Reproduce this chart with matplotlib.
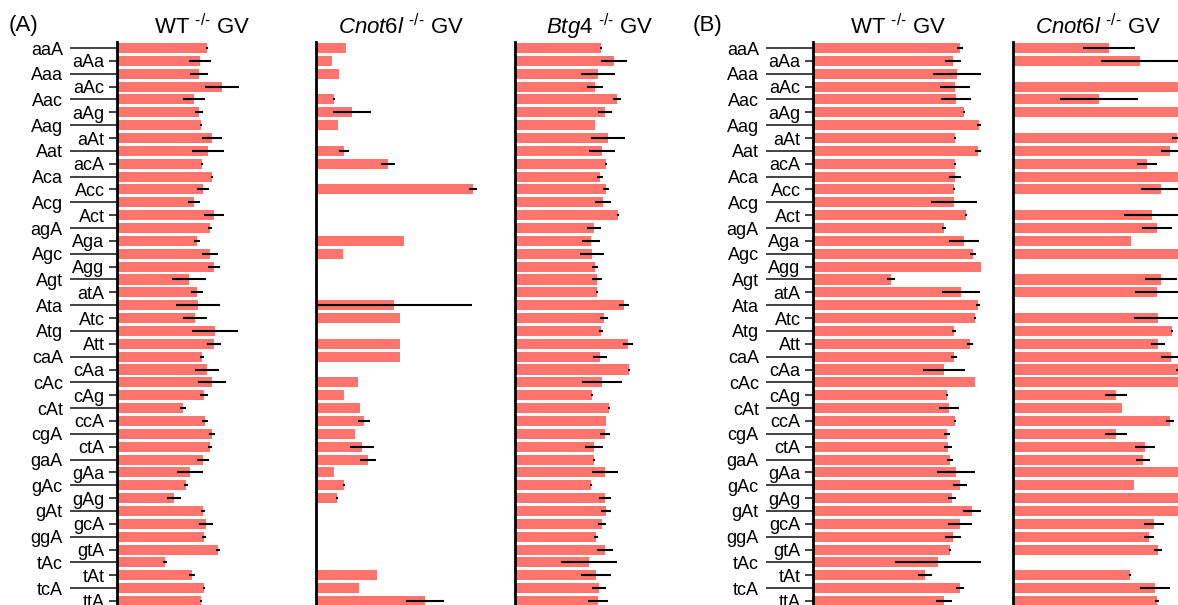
import numpy as np
import matplotlib
matplotlib.use('Agg')
import matplotlib.pyplot as plt

plt.rcParams['font.family'] = ['Liberation Sans', 'DejaVu Sans']
plt.rcParams['mathtext.fontset'] = 'custom'
plt.rcParams['mathtext.rm'] = 'Liberation Sans'
plt.rcParams['mathtext.it'] = 'Liberation Sans:italic'

motifs = ['aaA', 'aAa', 'Aaa', 'aAc', 'Aac', 'aAg', 'Aag', 'aAt', 'Aat', 'acA',
          'Aca', 'Acc', 'Acg', 'Act', 'agA', 'Aga', 'Agc', 'Agg', 'Agt', 'atA',
          'Ata', 'Atc', 'Atg', 'Att', 'caA', 'cAa', 'cAc', 'cAg', 'cAt', 'ccA',
          'cgA', 'ctA', 'gaA', 'gAa', 'gAc', 'gAg', 'gAt', 'gcA', 'ggA', 'gtA',
          'tAc', 'tAt', 'tcA', 'ttA']

# (A) WT GV
wt_a = [0.90, 0.83, 0.82, 1.05, 0.77, 0.82, 0.84, 0.95, 0.91, 0.85, 0.95, 0.86, 0.77, 0.97, 0.93,
        0.80, 0.93, 0.97, 0.72, 0.80, 0.81, 0.78, 0.98, 0.97, 0.85, 0.90, 0.95, 0.87, 0.66, 0.88,
        0.95, 0.93, 0.86, 0.73, 0.69, 0.57, 0.86, 0.89, 0.87, 1.01, 0.48, 0.75, 0.87, 0.84]
wt_a_err = [0.01, 0.11, 0.09, 0.17, 0.11, 0.04, 0.01, 0.10, 0.16, 0.01, 0.01, 0.06, 0.06, 0.10, 0.02,
            0.03, 0.08, 0.06, 0.17, 0.06, 0.22, 0.12, 0.23, 0.07, 0.02, 0.12, 0.14, 0.04, 0.03, 0.03,
            0.03, 0.02, 0.06, 0.13, 0.02, 0.07, 0.02, 0.07, 0.02, 0.02, 0.02, 0.03, 0.01, 0.01]

# (A) Cnot6l GV
cnot_a = [0.30, 0.16, 0.23, 0, 0.18, 0.36, 0.22, 0, 0.28, 0.72, 0, 1.57, 0, 0, 0,
          0.88, 0.27, 0, 0, 0, 0.78, 0.84, 0, 0.84, 0.84, 0, 0.42, 0.28, 0.44, 0.48,
          0.39, 0.46, 0.52, 0.18, 0.28, 0.21, 0, 0, 0, 0, 0, 0.61, 0.43, 1.09]
cnot_a_err = [0, 0, 0, 0, 0.01, 0.19, 0, 0, 0.05, 0.07, 0, 0.04, 0, 0, 0,
              0, 0, 0, 0, 0, 0.78, 0, 0, 0, 0, 0, 0, 0, 0, 0.06,
              0, 0.12, 0.08, 0, 0.01, 0.01, 0, 0, 0, 0, 0, 0, 0, 0.19]

# (A) Btg4 GV
btg4_a = [0.86, 0.99, 0.83, 0.80, 1.02, 0.90, 0.80, 0.93, 0.87, 0.91, 0.85, 0.91, 0.88, 1.03, 0.79,
          0.76, 0.77, 0.80, 0.82, 0.82, 1.09, 0.89, 0.86, 1.13, 0.85, 1.14, 0.87, 0.77, 0.94, 0.91,
          0.90, 0.79, 0.79, 0.90, 0.76, 0.90, 0.91, 0.87, 0.81, 0.90, 0.74, 0.81, 0.84, 0.83]
btg4_a_err = [0.01, 0.13, 0.17, 0.08, 0.04, 0.07, 0, 0.17, 0.13, 0.01, 0.03, 0.03, 0.08, 0.01, 0.07,
              0.09, 0.12, 0.03, 0.05, 0.01, 0.05, 0.04, 0.02, 0.05, 0.07, 0.01, 0.20, 0.01, 0.01, 0,
              0.05, 0.09, 0.01, 0.13, 0.01, 0.06, 0.05, 0.04, 0.02, 0.08, 0.28, 0.15, 0.07, 0.10]

# (B) WT GV
wt_b = [1.47, 1.40, 1.44, 1.42, 1.43, 1.51, 1.66, 1.42, 1.65, 1.42, 1.42, 1.41, 1.41, 1.53, 1.31,
        1.51, 1.60, 1.68, 0.78, 1.48, 1.65, 1.62, 1.41, 1.57, 1.41, 1.31, 1.62, 1.34, 1.36, 1.42,
        1.34, 1.35, 1.37, 1.43, 1.47, 1.39, 1.59, 1.47, 1.40, 1.37, 1.25, 1.12, 1.47, 1.31]
wt_b_err = [0.03, 0.08, 0.24, 0.15, 0.15, 0.01, 0.02, 0.01, 0.03, 0.01, 0.06, 0.01, 0.23, 0.01, 0.02,
            0.15, 0.03, 0, 0.04, 0.19, 0.02, 0.01, 0.02, 0.03, 0.03, 0.21, 0, 0.01, 0.10, 0.01,
            0.03, 0.04, 0.03, 0.19, 0.07, 0.04, 0.09, 0.12, 0.08, 0.01, 0.43, 0.07, 0.04, 0.08]

# (B) Cnot6l GV
cnot_b = [0.96, 1.27, 0, 1.68, 0.86, 1.75, 0, 1.64, 1.57, 1.34, 1.75, 1.48, 0, 1.39, 1.44,
          1.18, 1.75, 0, 1.48, 1.44, 0, 1.45, 1.59, 1.45, 1.58, 1.66, 1.75, 1.03, 1.09, 1.57,
          1.03, 1.32, 1.30, 1.75, 1.21, 1.75, 1.75, 1.41, 1.36, 1.45, 0, 1.17, 1.42, 1.44]
cnot_b_err = [0.26, 0.39, 0, 0.03, 0.39, 0, 0, 0.05, 0.09, 0.10, 0, 0.20, 0, 0.28, 0.15,
              0, 0, 0, 0.16, 0.22, 0, 0.24, 0.01, 0.07, 0.10, 0.03, 0, 0.11, 0, 0.04,
              0.11, 0.10, 0.07, 0, 0, 0, 0, 0.10, 0.05, 0.04, 0, 0.01, 0.15, 0.02]

W, H = 1178, 605
fig = plt.figure(figsize=(W / 100, H / 100), dpi=100)

BAR = '#ff746c'
y = np.arange(len(motifs))
sup = r'$^{\text{-/-}}$'

panels = [
    (117, 'WT ' + sup + ' GV', wt_a, wt_a_err, True),
    (316, r'$\mathit{Cnot6l}$ ' + sup + ' GV', cnot_a, cnot_a_err, False),
    (515, r'$\mathit{Btg4}$ ' + sup + ' GV', btg4_a, btg4_a_err, False),
    (813, 'WT ' + sup + ' GV', wt_b, wt_b_err, True),
    (1013, r'$\mathit{Cnot6l}$ ' + sup + ' GV', cnot_b, cnot_b_err, False),
]

top, bottom = 41.6, 607.4
for x0, title, vals, errs, labelled in panels:
    ax = fig.add_axes([x0 / W, 1 - bottom / H, 170 / W, (bottom - top) / H])
    ax.barh(y, vals, height=0.78, color=BAR, zorder=2)
    ax.errorbar(vals, y, xerr=errs, fmt='none', ecolor='black', elinewidth=1.5, capsize=0, zorder=3)
    ax.set_xlim(0, 1.70)
    ax.set_ylim(len(motifs) - 0.5, -0.5)
    ax.set_xticks([])
    for s in ['top', 'right', 'bottom']:
        ax.spines[s].set_visible(False)
    ax.spines['left'].set_linewidth(2)
    ax.set_title(title, fontsize=16, pad=5)
    if labelled:
        ax.set_yticks(y[::2], motifs[::2])
        ax.set_yticks(y[1::2], motifs[1::2], minor=True)
        ax.tick_params(axis='y', which='major', length=34, width=1.3, pad=5,
                       labelsize=13, color='#333333')
        ax.tick_params(axis='y', which='minor', length=6, width=1.3, pad=3,
                       labelsize=13, color='#333333')
    else:
        ax.set_yticks([])

fig.text(9 / W, 1 - 25 / H, '(A)', fontsize=16, va='center')
fig.text(693 / W, 1 - 25 / H, '(B)', fontsize=16, va='center')

fig.savefig('out.png', dpi=100)
